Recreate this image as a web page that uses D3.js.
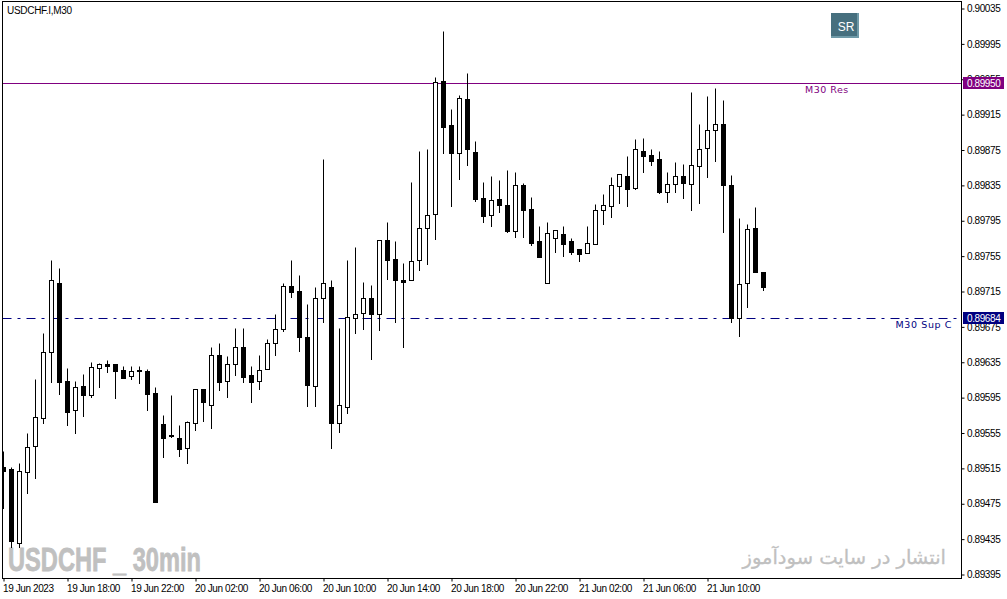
<!DOCTYPE html>
<html>
<head>
<meta charset="utf-8">
<script src="https://cdn.jsdelivr.net/npm/d3@7"></script>
<style>
  html, body { margin: 0; padding: 0; background: #fff; }
  svg { display: block; }
  .tick text { font-family: "Liberation Sans", sans-serif; font-size: 10px; letter-spacing: -0.4px; fill: #000; }
</style>
</head>
<body>
<svg></svg>
<script>
let opens = [
  0.89516,0.89514,0.89430,0.89510,0.89540,0.89571,0.89646,0.89724,0.89613,0.89580,
  0.89608,0.89597,0.89628,0.89633,0.89633,0.89626,0.89619,0.89626,0.89625,0.89600,
  0.89565,0.89552,0.89549,0.89537,0.89566,0.89604,0.89586,0.89643,0.89613,0.89632,
  0.89652,0.89620,0.89613,0.89627,0.89656,0.89672,0.89721,0.89715,0.89663,0.89608,
  0.89707,0.89720,0.89566,0.89584,0.89685,0.89690,0.89707,0.89689,0.89773,0.89751,
  0.89728,0.89728,0.89750,0.89786,0.89802,0.89952,0.89903,0.89871,0.89932,0.89872,
  0.89820,0.89801,0.89819,0.89812,0.89783,0.89835,0.89808,0.89771,0.89724,0.89775,
  0.89779,0.89771,0.89763,0.89758,0.89768,0.89807,0.89811,0.89834,0.89845,0.89832,
  0.89873,0.89869,0.89864,0.89827,0.89836,0.89845,0.89836,0.89856,0.89877,0.89897,
  0.89904,0.89835,0.89684,0.89724,0.89786,0.89736
]
let highs = [
  0.89534,0.89516,0.89521,0.89554,0.89616,0.89667,0.89750,0.89741,0.89628,0.89613,
  0.89621,0.89635,0.89634,0.89637,0.89633,0.89630,0.89630,0.89630,0.89627,0.89606,
  0.89575,0.89597,0.89563,0.89568,0.89604,0.89604,0.89652,0.89656,0.89641,0.89673,
  0.89673,0.89630,0.89643,0.89661,0.89689,0.89724,0.89750,0.89733,0.89700,0.89719,
  0.89864,0.89727,0.89673,0.89750,0.89765,0.89725,0.89722,0.89773,0.89793,0.89771,
  0.89747,0.89838,0.89873,0.89875,0.89957,0.90009,0.89921,0.89937,0.89962,0.89885,
  0.89838,0.89845,0.89841,0.89852,0.89850,0.89837,0.89821,0.89789,0.89793,0.89784,
  0.89788,0.89775,0.89763,0.89788,0.89813,0.89825,0.89844,0.89847,0.89868,0.89887,
  0.89888,0.89876,0.89873,0.89849,0.89861,0.89859,0.89940,0.89904,0.89936,0.89945,
  0.89931,0.89846,0.89798,0.89791,0.89810,0.89736
]
let lows = [
  0.89470,0.89426,0.89426,0.89487,0.89504,0.89566,0.89612,0.89598,0.89564,0.89554,
  0.89574,0.89595,0.89606,0.89623,0.89594,0.89617,0.89616,0.89611,0.89580,0.89476,
  0.89527,0.89550,0.89528,0.89520,0.89558,0.89568,0.89560,0.89603,0.89595,0.89620,
  0.89612,0.89590,0.89604,0.89627,0.89643,0.89670,0.89708,0.89647,0.89585,0.89585,
  0.89680,0.89538,0.89556,0.89577,0.89668,0.89672,0.89638,0.89671,0.89729,0.89680,
  0.89652,0.89728,0.89739,0.89745,0.89774,0.89871,0.89811,0.89842,0.89858,0.89817,
  0.89793,0.89789,0.89804,0.89782,0.89776,0.89776,0.89767,0.89754,0.89724,0.89759,
  0.89755,0.89757,0.89749,0.89758,0.89768,0.89791,0.89799,0.89815,0.89811,0.89830,
  0.89850,0.89858,0.89826,0.89816,0.89827,0.89820,0.89807,0.89814,0.89844,0.89862,
  0.89782,0.89680,0.89664,0.89697,0.89736,0.89716
]
let closes = [
  0.89511,0.89432,0.89511,0.89539,0.89572,0.89646,0.89727,0.89612,0.89578,0.89607,
  0.89597,0.89629,0.89632,0.89630,0.89625,0.89617,0.89625,0.89624,0.89599,0.89476,
  0.89549,0.89551,0.89536,0.89567,0.89604,0.89589,0.89643,0.89612,0.89633,0.89652,
  0.89618,0.89612,0.89626,0.89656,0.89672,0.89721,0.89714,0.89663,0.89609,0.89707,
  0.89724,0.89566,0.89586,0.89686,0.89689,0.89707,0.89689,0.89773,0.89750,0.89727,
  0.89725,0.89749,0.89786,0.89801,0.89951,0.89900,0.89871,0.89933,0.89875,0.89819,
  0.89800,0.89818,0.89812,0.89783,0.89835,0.89807,0.89769,0.89754,0.89781,0.89784,
  0.89768,0.89759,0.89757,0.89769,0.89807,0.89812,0.89835,0.89847,0.89830,0.89875,
  0.89868,0.89862,0.89827,0.89836,0.89845,0.89837,0.89858,0.89876,0.89897,0.89904,
  0.89835,0.89685,0.89723,0.89785,0.89736,0.89720
]
let priceTicks = [
  0.90035,0.89995,0.89955,0.89915,0.89875,0.89835,0.89795,0.89755,
  0.89715,0.89675,0.89635,0.89595,0.89555,0.89515,0.89475,0.89435,0.89395
]
let timeTicks = [0,8,16,24,32,40,48,56,64,72,80,88]
let timeLabels = [
  '19 Jun 2023','19 Jun 18:00','19 Jun 22:00','20 Jun 02:00','20 Jun 06:00','20 Jun 10:00',
  '20 Jun 14:00','20 Jun 18:00','20 Jun 22:00','21 Jun 02:00','21 Jun 06:00','21 Jun 10:00'
]
let resLevel = 0.89950
let supLevel = 0.89684

let width = 1007
let height = 599
let left = 2.5
let right = 961.5
let top_ = 1.5
let bottom = 578.5

let svg = d3.select('svg')
    .attr('width', width)
    .attr('height', height)

let xScale = d3.scaleLinear()
                .domain([0, 1])
                .range([3.5, 11.5])

let yScale = d3.scaleLinear()
                .domain([0.90035, 0.89395])
                .range([8, 574])

let y = p => Math.round(yScale(p)) + 0.5

svg.append('clipPath')
    .attr('id', 'plot')
  .append('rect')
    .attr('x', left)
    .attr('y', top_)
    .attr('width', right - left)
    .attr('height', bottom - top_)

// watermarks sit under the candles
svg.append('text')
    .attr('x', 8)
    .attr('y', 571)
    .attr('textLength', 193)
    .attr('lengthAdjust', 'spacingAndGlyphs')
    .style('font-family', '"Liberation Sans", sans-serif')
    .style('font-weight', 'bold')
    .style('font-size', '33px')
    .style('fill', '#c0c0c0')
    .style('stroke', '#c0c0c0')
    .style('stroke-width', '0.8px')
    .text('USDCHF _ 30min')

svg.append('text')
    .attr('x', 946)
    .attr('y', 564)
    .attr('direction', 'rtl')
    .style('font-family', '"DejaVu Sans", sans-serif')
    .style('font-size', '19.5px')
    .style('fill', '#c0c0c0')
    .style('stroke', '#c0c0c0')
    .style('stroke-width', '0.3px')
    .text('انتشار در سایت سودآموز')

// levels
svg.append('line')
    .attr('x1', left).attr('x2', right)
    .attr('y1', y(resLevel)).attr('y2', y(resLevel))
    .attr('stroke', '#800080')

svg.append('line')
    .attr('x1', left).attr('x2', right)
    .attr('y1', y(supLevel)).attr('y2', y(supLevel))
    .attr('stroke', '#000080')
    .attr('stroke-dasharray', '9,6,3,6')

// candles
let candles = svg.append('g')
    .attr('clip-path', 'url(#plot)')
  .selectAll('g')
  .data(opens.map((o, i) => ({i, o, h: highs[i], l: lows[i], c: closes[i]})))
  .enter()
  .append('g')

candles.append('line')
    .attr('x1', d => xScale(d.i))
    .attr('x2', d => xScale(d.i))
    .attr('y1', d => y(d.h))
    .attr('y2', d => y(d.l) + 0.5)
    .attr('stroke', '#000')

candles.append('rect')
    .attr('x', d => xScale(d.i) - 2)
    .attr('y', d => y(Math.max(d.o, d.c)))
    .attr('width', 4)
    .attr('height', d => y(Math.min(d.o, d.c)) - y(Math.max(d.o, d.c)))
    .attr('fill', d => d.c >= d.o ? '#fff' : '#000')
    .attr('stroke', '#000')

// frame and axes
svg.append('rect')
    .attr('x', left)
    .attr('y', top_)
    .attr('width', right - left)
    .attr('height', bottom - top_)
    .attr('fill', 'none')
    .attr('stroke', '#000')

let yAxis = d3.axisRight(yScale)
              .tickValues(priceTicks)
              .tickFormat(d3.format('.5f'))
              .tickSize(3)
              .tickSizeOuter(0)

let yAxisG = svg.append('g')
    .attr('transform', `translate(${right}, 0.5)`)
    .call(yAxis)
yAxisG.select('.domain').remove()
yAxisG.selectAll('text').attr('x', 5.5)

let xAxis = d3.axisBottom(xScale)
              .tickValues(timeTicks)
              .tickFormat((d, i) => timeLabels[i])
              .tickSize(3)
              .tickSizeOuter(0)

let xAxisG = svg.append('g')
    .attr('transform', `translate(0, ${bottom})`)
    .call(xAxis)
xAxisG.select('.domain').remove()
xAxisG.selectAll('text')
    .attr('y', 6)
    .attr('x', -1)
    .style('text-anchor', 'start')

// price tags on the right
let tags = [
  {value: resLevel, color: '#800080'},
  {value: supLevel, color: '#000080'}
]

svg.selectAll('.tag')
  .data(tags)
  .enter()
  .append('rect')
    .attr('class', 'tag')
    .attr('x', 963)
    .attr('y', d => y(d.value) - 6.5)
    .attr('width', 41)
    .attr('height', 12)
    .attr('fill', d => d.color)

svg.selectAll('.tagText')
  .data(tags)
  .enter()
  .append('text')
    .attr('class', 'tagText')
    .attr('x', 967)
    .attr('y', d => y(d.value) + 3.5)
    .style('font-family', '"Liberation Sans", sans-serif')
    .style('font-size', '10px')
    .style('letter-spacing', '-0.4px')
    .style('fill', '#fff')
    .text(d => d3.format('.5f')(d.value))

// labels
svg.append('text')
    .attr('x', 7)
    .attr('y', 14)
    .style('font-family', '"Liberation Sans", sans-serif')
    .style('font-size', '10px')
    .style('letter-spacing', '-0.3px')
    .text('USDCHF.I,M30')

svg.append('text')
    .attr('x', 805)
    .attr('y', 93)
    .style('font-family', '"DejaVu Sans", sans-serif')
    .style('font-size', '9.5px')
    .style('letter-spacing', '0.5px')
    .style('fill', '#800080')
    .text('M30 Res')

svg.append('text')
    .attr('x', 952)
    .attr('y', 328)
    .style('text-anchor', 'end')
    .style('font-family', '"DejaVu Sans", sans-serif')
    .style('font-size', '9.5px')
    .style('letter-spacing', '0.6px')
    .style('fill', '#000080')
    .text('M30 Sup C')

// SR button
svg.append('rect')
    .attr('x', 831)
    .attr('y', 13)
    .attr('width', 28)
    .attr('height', 25)
    .attr('fill', '#6f9aa8')

svg.append('rect')
    .attr('x', 831)
    .attr('y', 13)
    .attr('width', 26)
    .attr('height', 23)
    .attr('fill', '#466f7e')

svg.append('text')
    .attr('x', 846)
    .attr('y', 31)
    .style('text-anchor', 'middle')
    .style('font-family', '"Liberation Sans", sans-serif')
    .style('font-size', '12px')
    .style('fill', '#fff')
    .text('SR')
</script>
</body>
</html>
